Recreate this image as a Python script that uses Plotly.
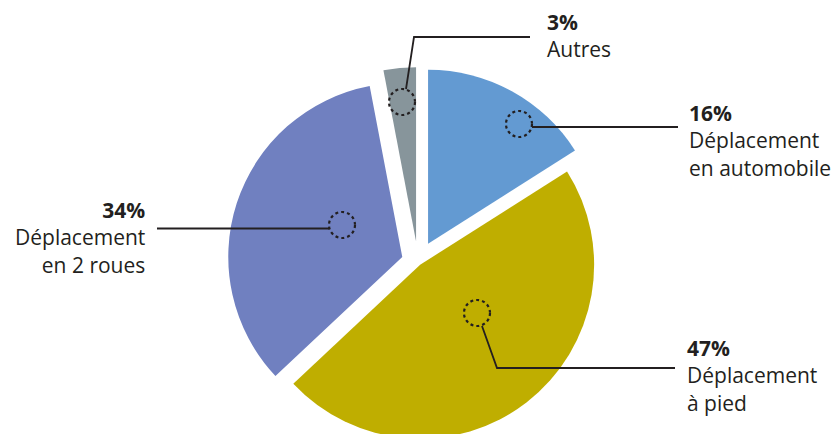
import plotly.graph_objects as go

# ---- data ----
categories = ["Déplacement en automobile", "Déplacement à pied", "Déplacement en 2 roues", "Autres"]
values = [16, 47, 34, 3]
pct_labels = ["16%", "47%", "34%", "3%"]
name_lines = [["Déplacement", "en automobile"], ["Déplacement", "à pied"], ["Déplacement", "en 2 roues"], ["Autres"]]
colors = ["#639ad2", "#bfae00", "#7080c0", "#87959b"]
pulls = [0.12, 0.02, 0.095, 0.12]

W, H = 840, 458
FONT = "Open Sans"
INK = "#231f20"


def px(x):
    return x / W


def py(y):
    return 1 - y / H


# pie geometry (pixels)
cx, cy, r = 418, 262, 174
box = 2 * r * (1 + max(pulls))

fig = go.Figure(go.Pie(
    labels=categories, values=values, sort=False, direction="clockwise", rotation=0,
    pull=pulls, marker=dict(colors=colors, line=dict(width=0)),
    textinfo="none", hoverinfo="label+percent", showlegend=False,
    domain=dict(x=[px(cx - box / 2), px(cx + box / 2)], y=[py(cy + box / 2), py(cy - box / 2)]),
))

shapes = []
annotations = []


def dotted_circle(x, y, rr=13):
    shapes.append(dict(type="circle", xref="paper", yref="paper",
                       x0=px(x - rr), x1=px(x + rr), y0=py(y + rr), y1=py(y - rr),
                       line=dict(color=INK, width=2.2, dash="dot")))


def leader(points):
    path = "M " + " L ".join(f"{px(x)},{py(y)}" for x, y in points)
    shapes.append(dict(type="path", xref="paper", yref="paper", path=path,
                       line=dict(color=INK, width=1.8)))


def label(x, center_y, idx, anchor):
    text = "<br>".join([f"<b>{pct_labels[idx]}</b>"] + name_lines[idx])
    annotations.append(dict(x=px(x), y=py(center_y), xref="paper", yref="paper",
                            text=text, showarrow=False, xanchor=anchor, yanchor="middle",
                            align=anchor,
                            font=dict(family=FONT, size=21, color=INK)))


# automobile
dotted_circle(519, 124)
leader([(532, 127), (678, 127)])
label(687, 140, 0, "left")
# à pied
dotted_circle(477, 313)
leader([(482, 326), (497, 368), (675, 368)])
label(685, 375, 1, "left")
# 2 roues
dotted_circle(342, 225)
leader([(329, 228.5), (157, 228.5)])
label(147, 237, 2, "right")
# autres
dotted_circle(402, 102)
leader([(406, 89), (414, 37), (530, 37)])
label(545, 36, 3, "left")

fig.update_layout(width=W, height=H, margin=dict(l=0, r=0, t=0, b=0),
                  paper_bgcolor="white", plot_bgcolor="white",
                  shapes=shapes, annotations=annotations)

fig.write_html("out.html", config={"displayModeBar": False},
               post_script="document.body.style.margin='0';document.body.style.overflow='hidden';document.documentElement.style.overflow='hidden';")
